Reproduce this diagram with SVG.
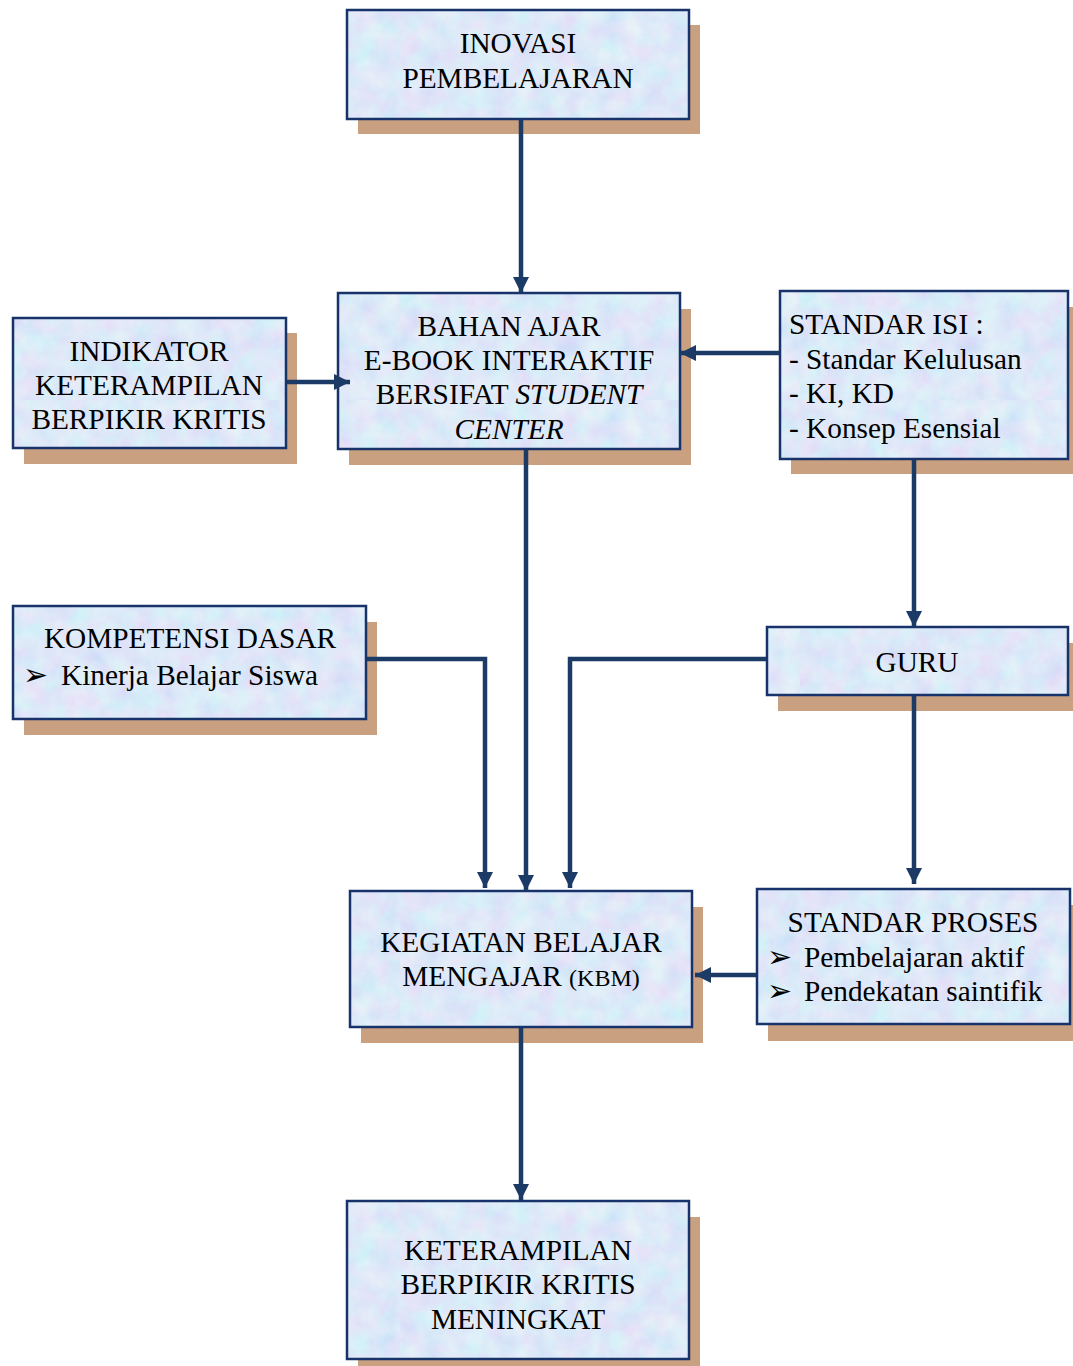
<svg xmlns="http://www.w3.org/2000/svg" width="1073" height="1366" viewBox="0 0 1073 1366">
<style>
.sh{fill:#c9a080}
.bx{fill:url(#tex);stroke:#17336a;stroke-width:2.5}
text{font-family:"Liberation Serif","Times New Roman",serif;font-size:29.3px;fill:#000}
.c{text-anchor:middle}
.b{font-size:30px}
.cn{fill:none;stroke:#1b3a66;stroke-width:4.5}
</style>
<defs>
<filter id="noise" x="0" y="0" width="100%" height="100%">
<feTurbulence type="fractalNoise" baseFrequency="0.045" numOctaves="4" seed="7" result="t"/>
<feColorMatrix in="t" type="matrix" values="0.6 0 0 0 0.55  0 0.5 0 0 0.62  0 0 0 0 0.96  0 0 0 0 1" result="c"/>
</filter>
<pattern id="tex" patternUnits="userSpaceOnUse" width="400" height="400">
<rect width="400" height="400" fill="#cadff6"/>
<rect width="400" height="400" filter="url(#noise)" opacity="0.55"/>
</pattern>
<marker id="ah" markerUnits="userSpaceOnUse" markerWidth="18" markerHeight="16" refX="16" refY="8" orient="auto">
<path d="M0,0 L16,8 L0,16 Z" fill="#1b3a66"/>
</marker>
</defs>
<rect width="1073" height="1366" fill="#fff"/>

<g id="inovasi">
<rect class="sh" x="358" y="25" width="342" height="109"/>
<rect class="bx" x="347" y="10" width="342" height="109"/>
<text class="c" x="518" y="53">INOVASI</text>
<text class="c" x="518" y="88">PEMBELAJARAN</text>
</g>

<g id="indikator">
<rect class="sh" x="24" y="333" width="273" height="131"/>
<rect class="bx" x="13" y="318" width="273" height="130"/>
<text class="c" x="149" y="361">INDIKATOR</text>
<text class="c" x="149" y="395">KETERAMPILAN</text>
<text class="c" x="149" y="429">BERPIKIR KRITIS</text>
</g>

<g id="bahan-ajar">
<rect class="sh" x="349" y="309" width="342" height="156"/>
<rect class="bx" x="338" y="293" width="342" height="156"/>
<text class="c" x="509" y="336">BAHAN AJAR</text>
<text class="c" x="509" y="370">E-BOOK INTERAKTIF</text>
<text class="c" x="509" y="404">BERSIFAT <tspan font-style="italic">STUDENT</tspan></text>
<text class="c" x="509" y="439" font-style="italic">CENTER</text>
</g>

<g id="standar-isi">
<rect class="sh" x="791" y="307" width="282" height="167"/>
<rect class="bx" x="780" y="291" width="288" height="168"/>
<text x="789" y="334">STANDAR ISI :</text>
<text x="789" y="369">- Standar Kelulusan</text>
<text x="789" y="403">- KI, KD</text>
<text x="789" y="438">- Konsep Esensial</text>
</g>

<g id="kompetensi">
<rect class="sh" x="24" y="622" width="353" height="113"/>
<rect class="bx" x="13" y="606" width="353" height="113"/>
<text class="c" x="190" y="648">KOMPETENSI DASAR</text>
<text class="b" x="23" y="685">➢</text>
<text x="61" y="685">Kinerja Belajar Siswa</text>
</g>

<g id="guru">
<rect class="sh" x="778" y="643" width="295" height="68"/>
<rect class="bx" x="767" y="627" width="301" height="68"/>
<text class="c" x="917" y="672">GURU</text>
</g>

<g id="kbm">
<rect class="sh" x="361" y="907" width="342" height="136"/>
<rect class="bx" x="350" y="891" width="342" height="136"/>
<text class="c" x="521" y="952">KEGIATAN BELAJAR</text>
<text class="c" x="521" y="986">MENGAJAR <tspan font-size="24">(KBM)</tspan></text>
</g>

<g id="standar-proses">
<rect class="sh" x="768" y="905" width="305" height="136"/>
<rect class="bx" x="757" y="889" width="313" height="135"/>
<text class="c" x="913" y="932">STANDAR PROSES</text>
<text class="b" x="767" y="967">➢</text>
<text x="804" y="967">Pembelajaran aktif</text>
<text class="b" x="767" y="1001">➢</text>
<text x="804" y="1001">Pendekatan saintifik</text>
</g>

<g id="keterampilan">
<rect class="sh" x="358" y="1217" width="342" height="149"/>
<rect class="bx" x="347" y="1201" width="342" height="158"/>
<text class="c" x="518" y="1260">KETERAMPILAN</text>
<text class="c" x="518" y="1294">BERPIKIR KRITIS</text>
<text class="c" x="518" y="1329">MENINGKAT</text>
</g>

<g id="connectors">
<path class="cn" d="M521,120 V293" marker-end="url(#ah)"/>
<path class="cn" d="M287,382 H350" marker-end="url(#ah)"/>
<path class="cn" d="M779,353 H680" marker-end="url(#ah)"/>
<path class="cn" d="M526,450 V891" marker-end="url(#ah)"/>
<path class="cn" d="M914,460 V627" marker-end="url(#ah)"/>
<path class="cn" d="M367,659 H485 V888" marker-end="url(#ah)"/>
<path class="cn" d="M766,659 H570 V888" marker-end="url(#ah)"/>
<path class="cn" d="M914,696 V884" marker-end="url(#ah)"/>
<path class="cn" d="M756,975 H695" marker-end="url(#ah)"/>
<path class="cn" d="M521,1028 V1200" marker-end="url(#ah)"/>
</g>
</svg>
